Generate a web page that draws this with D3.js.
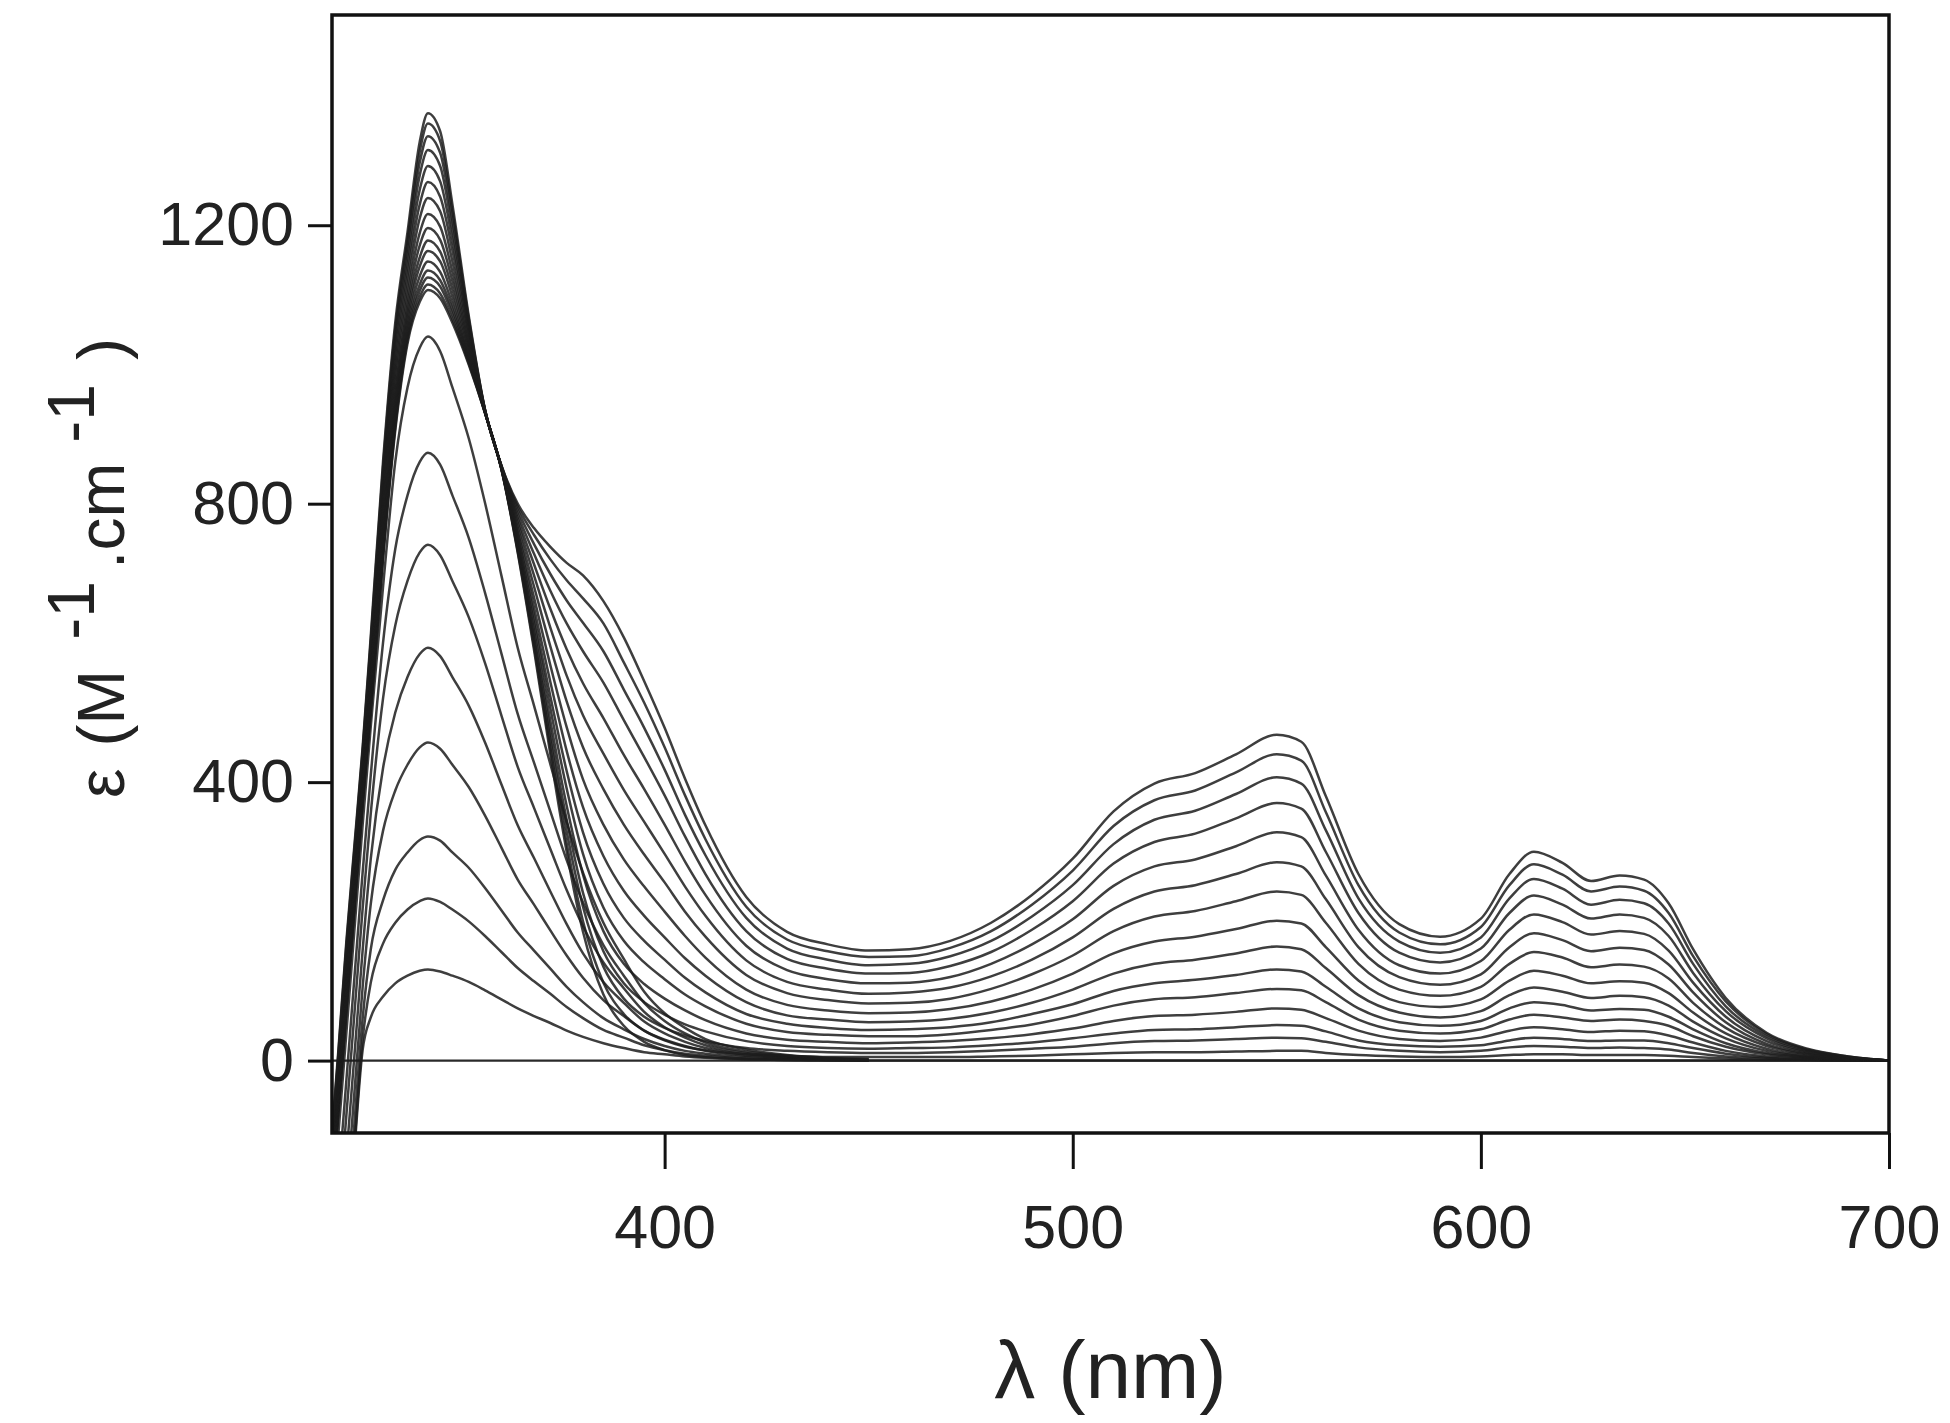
<!DOCTYPE html>
<html>
<head>
<meta charset="utf-8">
<script src="https://cdn.jsdelivr.net/npm/d3@7"></script>
<style>
  html, body { margin: 0; padding: 0; background: #fff; }
  svg { display: block; }
</style>
</head>
<body>
<svg id="chart"></svg>
<script>
// wavelength grid (nm) shared by every spectrum
const wavelengths = [318, 320, 322, 324, 326, 328, 331, 334, 337, 340, 342, 345, 348, 352, 356, 360, 364, 368, 372, 376,
  380, 385, 390, 395, 400, 405, 410, 420, 430, 440, 450, 460, 470, 480, 490, 500, 510, 520, 530, 540,
  550, 556, 562, 570, 580, 590, 600, 607, 613, 620, 627, 634, 640, 646, 652, 660, 670, 680, 690, 700];

const xTicks = [400, 500, 600, 700];
const yTicks = [0, 400, 800, 1200];

// first additions: only the 342 nm band grows (read up to 450 nm, flat after)
const stepA1 = [-600, -470, -320, -130, 15, 62, 92, 111, 122, 129, 131, 128, 122, 113, 101, 88, 75, 64, 54, 43, 34, 25, 18, 12, 9, 6, 4, 2, 1, 1, 0];
const stepA2 = [-585, -435, -285, -120, 30, 112, 168, 198, 217, 229, 233, 228, 217, 200, 179, 156, 133, 114, 96, 77, 61, 44, 33, 22, 15, 10, 7, 3, 2, 1, 0];
const stepA3 = [-550, -400, -250, -90, 60, 160, 230, 274, 299, 317, 322, 316, 299, 277, 248, 216, 184, 158, 132, 106, 84, 61, 45, 31, 21, 14, 10, 5, 3, 1, 1];
const stepA4 = [-500, -345, -195, -45, 105, 225, 330, 388, 425, 450, 457, 448, 425, 393, 352, 306, 260, 224, 187, 151, 119, 87, 64, 43, 30, 21, 14, 7, 4, 2, 1];
const stepA5 = [-440, -290, -140, 8, 158, 290, 420, 500, 551, 584, 593, 581, 551, 510, 457, 397, 338, 291, 243, 196, 154, 113, 83, 56, 39, 27, 18, 9, 5, 2, 1];
const stepA6 = [-380, -230, -80, 68, 218, 355, 520, 625, 689, 730, 741, 726, 689, 637, 571, 496, 422, 363, 304, 245, 193, 141, 104, 70, 48, 33, 22, 11, 6, 3, 1];
const stepA7 = [-330, -180, -30, 120, 270, 410, 600, 735, 812, 860, 873, 856, 812, 751, 672, 585, 498, 428, 358, 288, 227, 166, 122, 83, 57, 39, 26, 13, 7, 3, 1];
const stepA8 = [-260, -110, 38, 188, 338, 480, 680, 860, 967, 1024, 1040, 1019, 967, 894, 801, 697, 593, 510, 426, 343, 270, 198, 146, 99, 68, 47, 31, 16, 8, 4, 2];

// later additions: 380 nm shoulder and the visible bands appear
const stepB1 = [-230, -80, 68, 218, 368, 500, 720, 905, 1030, 1090, 1107, 1095, 1060, 1000, 930, 850, 730, 590, 440, 300, 185, 95, 50, 27, 15, 8, 5, 2, 1, 0, 0, 0, 0, 0, 0, 0, 0, 0, 0, 0, 0, 0, 0, 0, 0, 0, 0, 0, 0, 0, 0, 0, 0, 0, 0, 0, 0, 0, 0, 0];
const stepB2 = [-227, -77, 71, 221, 370, 503, 724, 910, 1035, 1097, 1115, 1102, 1065, 1002, 930, 850, 732, 595, 449, 312, 200, 112, 67, 43, 29, 20, 15, 9, 7, 5, 5, 5, 5, 6, 7, 9, 11, 12, 12, 13, 14, 14, 11, 8, 6, 5, 6, 8, 9, 9, 8, 8, 8, 7, 5, 3, 1, 1, 0, 0];
const stepB3 = [-224, -74, 75, 224, 374, 508, 730, 916, 1041, 1106, 1125, 1112, 1072, 1005, 930, 850, 735, 602, 461, 329, 221, 135, 89, 63, 47, 36, 28, 18, 14, 12, 11, 11, 12, 14, 17, 20, 25, 28, 29, 31, 33, 32, 27, 19, 14, 12, 14, 19, 21, 20, 18, 19, 18, 16, 11, 6, 3, 1, 0, 0];
const stepB4 = [-220, -70, 79, 228, 377, 512, 735, 922, 1048, 1115, 1135, 1121, 1079, 1008, 931, 851, 738, 609, 473, 346, 241, 157, 111, 84, 66, 52, 42, 28, 21, 18, 17, 18, 19, 22, 26, 32, 39, 44, 45, 48, 51, 50, 42, 29, 22, 20, 22, 29, 33, 31, 28, 29, 29, 25, 18, 10, 4, 2, 1, 0];
const stepB5 = [-216, -66, 84, 233, 381, 518, 742, 930, 1056, 1127, 1148, 1133, 1087, 1011, 931, 851, 741, 618, 488, 366, 267, 186, 139, 110, 89, 72, 58, 39, 30, 27, 25, 26, 28, 32, 38, 46, 57, 64, 66, 70, 75, 73, 61, 43, 31, 28, 33, 43, 48, 45, 41, 43, 42, 36, 26, 14, 6, 3, 1, 0];
const stepB6 = [-210, -60, 90, 238, 386, 524, 751, 939, 1065, 1141, 1163, 1148, 1097, 1015, 931, 851, 745, 629, 506, 391, 297, 220, 172, 141, 117, 95, 78, 53, 41, 37, 35, 35, 38, 44, 52, 64, 79, 88, 91, 97, 103, 101, 84, 59, 43, 39, 45, 59, 66, 62, 57, 59, 57, 50, 35, 20, 9, 4, 1, 0];
const stepB7 = [-205, -55, 97, 244, 391, 531, 759, 948, 1075, 1154, 1178, 1162, 1108, 1020, 931, 851, 750, 639, 523, 416, 328, 254, 205, 172, 145, 119, 98, 67, 53, 47, 44, 45, 48, 55, 67, 81, 100, 111, 116, 123, 131, 128, 106, 75, 55, 50, 57, 75, 84, 80, 72, 74, 73, 63, 45, 25, 11, 5, 2, 0];
const stepB8 = [-199, -49, 104, 250, 397, 539, 769, 959, 1086, 1171, 1196, 1179, 1120, 1025, 932, 852, 755, 651, 544, 445, 364, 294, 244, 208, 177, 147, 122, 84, 65, 59, 55, 56, 60, 69, 83, 102, 125, 139, 145, 154, 164, 160, 133, 94, 69, 62, 71, 94, 105, 99, 90, 93, 91, 79, 56, 32, 14, 6, 2, 0];
const stepB9 = [-191, -41, 112, 258, 403, 547, 780, 972, 1099, 1189, 1216, 1198, 1133, 1030, 932, 852, 760, 665, 568, 479, 404, 339, 289, 250, 214, 179, 148, 102, 80, 72, 68, 69, 74, 85, 102, 125, 154, 171, 178, 189, 201, 197, 163, 115, 84, 77, 88, 115, 129, 122, 111, 114, 112, 97, 69, 39, 17, 7, 3, 0];
const stepB10 = [-183, -33, 121, 266, 411, 557, 793, 986, 1113, 1210, 1239, 1220, 1148, 1036, 933, 853, 766, 681, 595, 516, 450, 390, 339, 296, 256, 214, 178, 123, 97, 87, 82, 83, 89, 103, 124, 151, 186, 207, 215, 229, 243, 238, 198, 139, 102, 93, 106, 139, 156, 148, 134, 138, 135, 118, 83, 47, 21, 9, 3, 0];
const stepB11 = [-175, -25, 130, 274, 418, 567, 805, 1000, 1128, 1230, 1262, 1241, 1164, 1043, 933, 853, 773, 697, 622, 553, 496, 441, 389, 343, 297, 250, 208, 144, 113, 102, 96, 98, 105, 121, 145, 177, 218, 243, 252, 268, 285, 279, 232, 163, 120, 109, 124, 163, 183, 173, 157, 162, 159, 138, 98, 55, 24, 10, 4, 0];
const stepB12 = [-167, -17, 139, 282, 425, 577, 818, 1014, 1142, 1251, 1285, 1263, 1179, 1049, 934, 854, 779, 713, 649, 591, 542, 492, 439, 390, 339, 286, 238, 165, 130, 117, 111, 112, 120, 139, 167, 203, 251, 279, 289, 308, 328, 321, 266, 188, 137, 125, 143, 188, 210, 199, 181, 186, 182, 158, 112, 63, 28, 12, 4, 0];
const stepB13 = [-159, -9, 149, 291, 433, 587, 831, 1028, 1156, 1272, 1308, 1285, 1194, 1055, 934, 854, 785, 728, 675, 628, 588, 543, 489, 436, 381, 322, 268, 186, 146, 132, 125, 126, 136, 156, 188, 229, 283, 314, 326, 348, 370, 362, 300, 212, 155, 141, 161, 212, 237, 224, 204, 210, 205, 179, 126, 71, 32, 13, 5, 0];
const stepB14 = [-152, -2, 157, 298, 439, 596, 842, 1040, 1169, 1290, 1328, 1304, 1208, 1061, 934, 854, 791, 742, 699, 661, 629, 588, 533, 478, 418, 353, 295, 205, 161, 145, 137, 139, 150, 172, 207, 252, 311, 346, 359, 383, 407, 398, 331, 233, 171, 155, 177, 233, 261, 247, 224, 231, 226, 197, 139, 78, 35, 15, 5, 0];
const stepB15 = [-145, 5, 164, 304, 445, 603, 852, 1051, 1180, 1306, 1346, 1321, 1220, 1066, 935, 855, 796, 755, 720, 690, 664, 628, 572, 514, 450, 381, 318, 221, 174, 157, 149, 150, 162, 186, 224, 273, 337, 374, 388, 414, 440, 431, 357, 252, 184, 167, 192, 252, 282, 267, 243, 250, 244, 212, 150, 85, 38, 16, 6, 0];
const stepB16 = [-140, 10, 170, 310, 450, 610, 860, 1060, 1190, 1320, 1361, 1335, 1230, 1070, 935, 855, 800, 765, 738, 715, 697, 660, 608, 545, 478, 405, 338, 235, 185, 167, 158, 160, 172, 198, 238, 290, 358, 398, 413, 440, 468, 458, 380, 268, 196, 178, 204, 268, 300, 284, 258, 266, 260, 226, 160, 90, 40, 17, 6, 0];

const stageA = [stepA1, stepA2, stepA3, stepA4, stepA5, stepA6, stepA7, stepA8];
const stageB = [stepB1, stepB2, stepB3, stepB4, stepB5, stepB6, stepB7, stepB8,
  stepB9, stepB10, stepB11, stepB12, stepB13, stepB14, stepB15, stepB16];

const width = 1950, height = 1423;
const margin = { top: 15, right: 61, bottom: 290, left: 332 };
const font = '"Liberation Sans", Arial, Helvetica, sans-serif';

const svg = d3.select("#chart")
  .attr("width", width)
  .attr("height", height)
  .style("background", "#fff");

const x = d3.scaleLinear().domain([318.5, 700]).range([margin.left, width - margin.right]);
const y = d3.scaleLinear().domain([-104, 1502]).range([height - margin.bottom, margin.top]);

svg.append("clipPath").attr("id", "plot-clip")
  .append("rect")
  .attr("x", margin.left)
  .attr("y", margin.top)
  .attr("width", width - margin.left - margin.right)
  .attr("height", height - margin.top - margin.bottom);

const plot = svg.append("g").attr("clip-path", "url(#plot-clip)");

// zero line
plot.append("line")
  .attr("x1", margin.left).attr("x2", width - margin.right)
  .attr("y1", y(0)).attr("y2", y(0))
  .attr("stroke", "#2a2a2a")
  .attr("stroke-width", 2.2);

const line = d3.line()
  .x((d, i) => x(wavelengths[i]))
  .y(d => y(d))
  .curve(d3.curveMonotoneX);

plot.selectAll("path.spec")
  .data(stageA.concat(stageB))
  .join("path")
  .attr("class", "spec")
  .attr("d", line)
  .attr("fill", "none")
  .attr("stroke", "#1c1c1c")
  .attr("stroke-width", 2.5)
  .attr("stroke-opacity", 0.85)
  .attr("stroke-linejoin", "round");

// axes
const yAxis = svg.append("g")
  .attr("transform", "translate(" + margin.left + ",0)")
  .call(d3.axisLeft(y).tickValues(yTicks).tickFormat(d3.format("d"))
    .tickSize(24).tickPadding(14).tickSizeOuter(0));

const xAxis = svg.append("g")
  .attr("transform", "translate(0," + (height - margin.bottom) + ")")
  .call(d3.axisBottom(x).tickValues(xTicks).tickFormat(d3.format("d"))
    .tickSize(36).tickPadding(36).tickSizeOuter(0));

[yAxis, xAxis].forEach(g => {
  g.select(".domain").remove();
  g.selectAll(".tick line").attr("stroke", "#111").attr("stroke-width", 3);
  g.selectAll(".tick text")
    .attr("fill", "#222")
    .style("font-family", font)
    .style("font-size", "61px");
});

// frame
svg.append("rect")
  .attr("x", margin.left)
  .attr("y", margin.top)
  .attr("width", width - margin.left - margin.right)
  .attr("height", height - margin.top - margin.bottom)
  .attr("fill", "none")
  .attr("stroke", "#111")
  .attr("stroke-width", 3.5);

// axis titles
svg.append("text")
  .attr("x", (margin.left + width - margin.right) / 2)
  .attr("y", 1398)
  .attr("text-anchor", "middle")
  .attr("fill", "#222")
  .style("font-family", font)
  .style("font-size", "82px")
  .text("λ (nm)");

const yTitle = svg.append("text")
  .attr("transform", "translate(124,568) rotate(-90)")
  .attr("text-anchor", "middle")
  .attr("fill", "#222")
  .style("font-family", font)
  .style("font-size", "66px");
yTitle.append("tspan").text("ε");
yTitle.append("tspan").attr("dx", 22).text("(M");
yTitle.append("tspan").attr("dx", 30).attr("dy", -30).text("-1");
yTitle.append("tspan").attr("dx", 12).attr("dy", 30).text(".cm");
yTitle.append("tspan").attr("dx", 20).attr("dy", -30).text("-1");
yTitle.append("tspan").attr("dx", 24).attr("dy", 30).text(")");
</script>
</body>
</html>
